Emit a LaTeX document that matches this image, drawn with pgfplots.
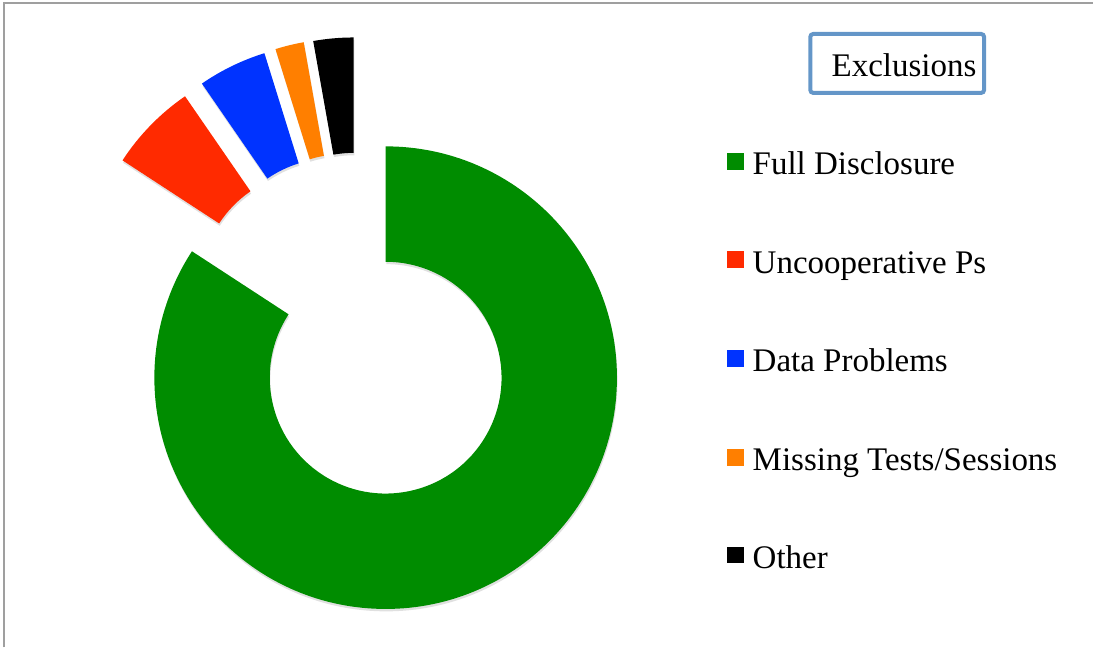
\documentclass[border=0pt]{standalone}
\usepackage{pgfplots}
\usepackage{pgfplotstable}
\pgfplotsset{compat=1.18}
\usepackage{fontspec}
\setmainfont{Liberation Serif}

\definecolor{c0}{RGB}{0,140,0}
\definecolor{c1}{RGB}{255,42,0}
\definecolor{c2}{RGB}{0,51,255}
\definecolor{c3}{RGB}{255,127,0}
\definecolor{c4}{RGB}{0,0,0}
\definecolor{boxblue}{RGB}{100,150,200}

% value = share in percent; cx, cy = centre of the (exploded) slice in px
\pgfplotstableread{
name value cx cy
FullDisclosure 84.2 386 270
Uncooperative 6.2 316.5 361
DataProblems 4.8 333.4 373.7
Missing 2.0 344.5 377.8
Other 2.8 354 379
}\slicedata

\newcommand\setg[2]{\expandafter\xdef\csname #1\endcsname{#2}}
\newcommand\g[1]{\csname #1\endcsname}
\xdef\cum{0}
\foreach \i in {0,...,4}{%
  \pgfplotstablegetelem{\i}{value}\of\slicedata \pgfmathsetmacro\v{\pgfplotsretval}%
  \pgfplotstablegetelem{\i}{cx}\of\slicedata \pgfmathsetmacro\cx{\pgfplotsretval}%
  \pgfplotstablegetelem{\i}{cy}\of\slicedata \pgfmathsetmacro\cy{\pgfplotsretval}%
  \pgfmathsetmacro\a{90-3.6*\cum}%
  \pgfmathsetmacro\b{90-3.6*(\cum+\v)}%
  \setg{sa\i}{\a}\setg{sb\i}{\b}\setg{cx\i}{\cx}\setg{cy\i}{\cy}%
  \pgfmathsetmacro\c{\cum+\v}\xdef\cum{\c}%
}

\begin{document}
\begin{tikzpicture}
\begin{axis}[
  x=0.5pt, y=0.5pt,
  xmin=0, xmax=1094, ymin=0, ymax=648,
  hide axis, clip=false,
]
\path (axis cs:0,0) rectangle (axis cs:1094,648);
% frame
\draw[gray!75, line width=1pt] (axis cs:4,0) -- (axis cs:4,645) -- (axis cs:1094,645);

% slices
\pgfplotsinvokeforeach{0,...,4}{
  \fill[black, opacity=0.12, yshift=-1.2pt, xshift=0.3pt]
    (axis cs:{\g{cx#1}+116*cos(\g{sa#1})},{\g{cy#1}+116*sin(\g{sa#1})})
    -- (axis cs:{\g{cx#1}+231.5*cos(\g{sa#1})},{\g{cy#1}+231.5*sin(\g{sa#1})})
    arc[start angle=\g{sa#1}, end angle=\g{sb#1}, radius=115.75pt]
    -- (axis cs:{\g{cx#1}+116*cos(\g{sb#1})},{\g{cy#1}+116*sin(\g{sb#1})})
    arc[start angle=\g{sb#1}, end angle=\g{sa#1}, radius=58pt] -- cycle;
  \fill[c#1]
    (axis cs:{\g{cx#1}+116*cos(\g{sa#1})},{\g{cy#1}+116*sin(\g{sa#1})})
    -- (axis cs:{\g{cx#1}+231.5*cos(\g{sa#1})},{\g{cy#1}+231.5*sin(\g{sa#1})})
    arc[start angle=\g{sa#1}, end angle=\g{sb#1}, radius=115.75pt]
    -- (axis cs:{\g{cx#1}+116*cos(\g{sb#1})},{\g{cy#1}+116*sin(\g{sb#1})})
    arc[start angle=\g{sb#1}, end angle=\g{sa#1}, radius=58pt] -- cycle;
}

% legend title box
\draw[boxblue, line width=2pt, rounded corners=1.5pt] (axis cs:811,555) rectangle (axis cs:985,614);
\node[anchor=base west, inner sep=0, font=\fontsize{16.5}{20}\selectfont] at (axis cs:832,571) {Exclusions};

% legend entries
\fill[c0] (axis cs:728,478) rectangle (axis cs:745,495);
\node[anchor=base west, inner sep=0, font=\fontsize{16.5}{20}\selectfont] at (axis cs:753,473) {Full Disclosure};
\fill[c1] (axis cs:728,379.5) rectangle (axis cs:745,396.5);
\node[anchor=base west, inner sep=0, font=\fontsize{16.5}{20}\selectfont] at (axis cs:753,374.5) {Uncooperative Ps};
\fill[c2] (axis cs:728,281) rectangle (axis cs:745,298);
\node[anchor=base west, inner sep=0, font=\fontsize{16.5}{20}\selectfont] at (axis cs:753,276) {Data Problems};
\fill[c3] (axis cs:728,182) rectangle (axis cs:745,199);
\node[anchor=base west, inner sep=0, font=\fontsize{16.5}{20}\selectfont] at (axis cs:753,177) {Missing Tests/Sessions};
\fill[c4] (axis cs:728,84) rectangle (axis cs:745,101);
\node[anchor=base west, inner sep=0, font=\fontsize{16.5}{20}\selectfont] at (axis cs:753,79) {Other};
\end{axis}
\end{tikzpicture}
\end{document}
